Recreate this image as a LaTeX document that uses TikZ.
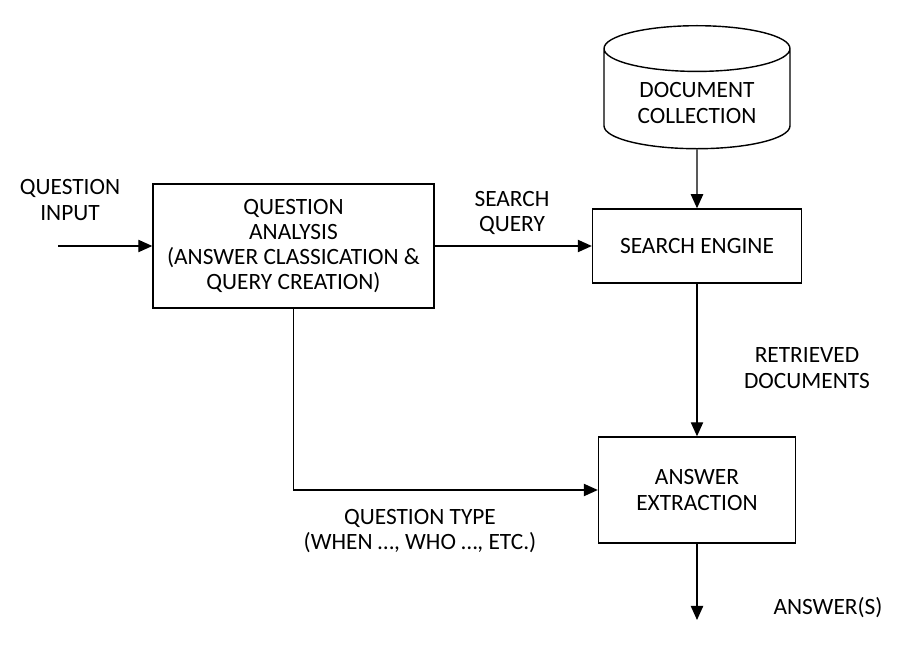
\documentclass[tikz,border=0pt]{standalone}
\usepackage{fontspec}
\setmainfont{Carlito}
\usetikzlibrary{arrows.meta,shapes.geometric}

\tikzset{
    block/.style={draw, rectangle, line width=0.8pt, align=center},
    store/.style={draw, cylinder, shape border rotate=90, aspect=0.35, inner ysep=6pt, line width=0.8pt, align=center},
    flow/.style={-{Triangle[length=8pt,width=7pt]}, line width=0.8pt},
    tag/.style={align=center}
}

\begin{document}
\begin{tikzpicture}[x=0.02cm, y=-0.02cm, font=\fontsize{13.3}{14.4}\selectfont]
\useasboundingbox (0,0) rectangle (916,655);

% Document collection store
\node[store, minimum width=3.72cm, anchor=north] (doccoll) at (697,25) {DOCUMENT\\COLLECTION};

% Question analysis block
\node[block, minimum width=5.62cm, minimum height=2.48cm] (analysis) at (293.5,246) {
    QUESTION\\
    ANALYSIS\\
    (ANSWER CLASSICATION \&\\
    QUERY CREATION)
};

% Search engine block
\node[block, minimum width=4.18cm, minimum height=1.48cm] (engine) at (697,246) {SEARCH ENGINE};

% Answer extraction block
\node[block, minimum width=3.94cm, minimum height=2.12cm] (extract) at (697,490) {ANSWER\\EXTRACTION};

% Free ends
\coordinate (qin) at (58,246);
\coordinate (aout) at (697,620);

% Labels
\node[tag] (lblqin) at (70,200) {QUESTION\\INPUT};
\node[tag] (lblquery) at (512,213) {SEARCH\\QUERY};
\node[tag] (lbldocs) at (807,368) {RETRIEVED\\DOCUMENTS};
\node[tag] (lbltype) at (420,531) {QUESTION TYPE\\(WHEN …, WHO …, ETC.)};
\node[tag] (lblans) at (828,608) {ANSWER(S)};

% Connections
\draw[flow] (qin) -- (analysis);
\draw[flow] (analysis) -- (engine);
\draw[flow] (doccoll.south) -- (engine.north);
\draw[flow] (engine) -- (extract);
\draw[flow] (analysis.south) |- (extract.west);
\draw[flow] (extract) -- (aout);

\end{tikzpicture}
\end{document}
